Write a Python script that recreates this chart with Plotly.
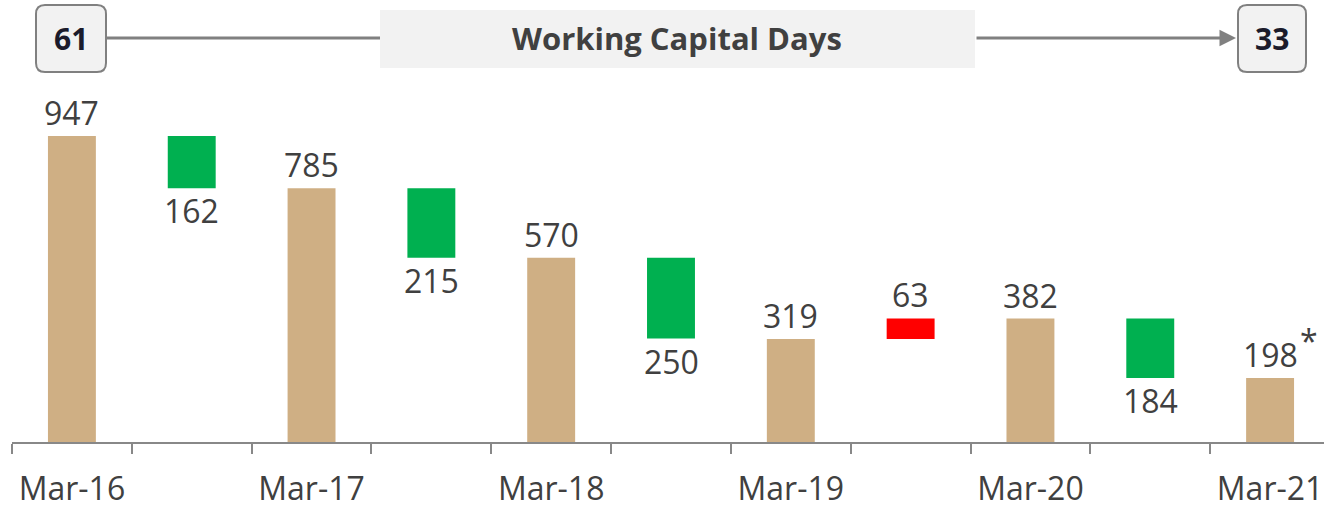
import plotly.graph_objects as go

# ---- data ----
periods = ["Mar-16", "Mar-17", "Mar-18", "Mar-19", "Mar-20", "Mar-21"]
totals = [947, 785, 570, 319, 382, 198]
changes = [-162, -215, -250, 63, -184]
wc_days_start = "61"
wc_days_end = "33"
title_text = "Working Capital Days"
footnote_mark = "*"

# build interleaved categories
cats, measures, values = [], [], []
for i, p in enumerate(periods):
    cats.append(p)
    measures.append("absolute")
    values.append(totals[i])
    if i < len(changes):
        cats.append(" " * (i + 1))
        measures.append("relative")
        values.append(changes[i])

TAN = "#CFAF84"
GREEN = "#00B050"
RED = "#FF0000"
TXT = "#404040"
FONT = "Open Sans"
FS = 32

fig = go.Figure(go.Waterfall(
    x=cats, y=values, measure=measures,
    width=0.4,
    totals=dict(marker=dict(color=TAN)),
    decreasing=dict(marker=dict(color=GREEN)),
    increasing=dict(marker=dict(color=RED)),
    connector=dict(visible=False),
    hoverinfo="skip",
))

annotations = []
for i, p in enumerate(periods):
    annotations.append(dict(x=p, y=totals[i], xref="x", yref="y", text=str(totals[i]),
                            showarrow=False, yanchor="bottom", yshift=0,
                            font=dict(size=FS, color=TXT, family=FONT)))
# footnote asterisk on the last value
annotations.append(dict(x=periods[-1], y=totals[-1], xref="x", yref="y", text=footnote_mark,
                        showarrow=False, yanchor="bottom", xanchor="left",
                        xshift=28, yshift=14,
                        font=dict(size=32, color=TXT, family=FONT)))
for i, c in enumerate(changes):
    end = totals[i] + c
    cat = " " * (i + 1)
    annotations.append(dict(x=cat, y=end, xref="x", yref="y", text=str(abs(c)),
                            showarrow=False,
                            yanchor="top" if c < 0 else "bottom",
                            yshift=1,
                            font=dict(size=FS, color=TXT, family=FONT)))

# pixel -> paper helpers (plot area: x 12..1324, y 80..442)
L, R, T, B = 12, 1324, 80, 442
def px(x):
    return (x - L) / (R - L)
def py(y):
    return (B - y) / (B - T)

def rrect(x0, y0, x1, y1, r):
    rx, ry = r / (R - L), r / (B - T)
    X0, X1 = px(x0), px(x1)
    Y0, Y1 = py(y0), py(y1)  # Y0 top, Y1 bottom
    return (f"M {X0+rx},{Y0} L {X1-rx},{Y0} Q {X1},{Y0} {X1},{Y0-ry} "
            f"L {X1},{Y1+ry} Q {X1},{Y1} {X1-rx},{Y1} L {X0+rx},{Y1} "
            f"Q {X0},{Y1} {X0},{Y1+ry} L {X0},{Y0-ry} Q {X0},{Y0} {X0+rx},{Y0} Z")

shapes = [
    dict(type="line", xref="paper", yref="paper", x0=px(106), x1=px(380),
         y0=py(38), y1=py(38), line=dict(color="#808080", width=3)),
    dict(type="rect", xref="paper", yref="paper", x0=px(380), x1=px(975),
         y0=py(68), y1=py(10), fillcolor="#F2F2F2", line=dict(width=0), layer="below"),
    dict(type="path", xref="paper", yref="paper", path=rrect(36, 5, 106, 72, 9),
         fillcolor="#F2F2F2", line=dict(color="#808080", width=2)),
    dict(type="path", xref="paper", yref="paper", path=rrect(1238, 5, 1306, 72, 9),
         fillcolor="#F2F2F2", line=dict(color="#808080", width=2)),
]

annotations += [
    dict(xref="paper", yref="paper", x=px(1236), y=py(38), ax=-(1236 - 975), ay=0,
         text="", showarrow=True, arrowhead=2, arrowsize=1.1, arrowwidth=3,
         arrowcolor="#808080"),
    dict(xref="paper", yref="paper", x=px(677), y=py(38), xanchor="center", yanchor="middle",
         text="<b>" + title_text + "</b>",
         showarrow=False, font=dict(size=31, color=TXT, family=FONT)),
    dict(xref="paper", yref="paper", x=px(71), y=py(39), xanchor="center", yanchor="middle",
         text="<b>" + wc_days_start + "</b>",
         showarrow=False, font=dict(size=30, color="#1B1B2B", family=FONT)),
    dict(xref="paper", yref="paper", x=px(1272), y=py(39), xanchor="center", yanchor="middle",
         text="<b>" + wc_days_end + "</b>",
         showarrow=False, font=dict(size=30, color="#1B1B2B", family=FONT)),
]

fig.update_layout(
    width=1324, height=508,
    margin=dict(l=L, r=1324 - R, t=T, b=508 - B, pad=0),
    paper_bgcolor="white", plot_bgcolor="white",
    showlegend=False,
    shapes=shapes, annotations=annotations,
    font=dict(family=FONT, color=TXT),
    xaxis=dict(type="category", range=[-0.5, 10.45], tickson="boundaries",
               ticks="outside", ticklen=10, tickcolor="#888888", tickwidth=1.5,
               ticklabelstandoff=18,
               showline=True, linecolor="#888888", linewidth=1.5,
               showgrid=False, tickfont=dict(size=FS, color=TXT, family=FONT),
               fixedrange=True),
    yaxis=dict(range=[0, 947 * (B - T) / 306], visible=False, showgrid=False,
               zeroline=False, fixedrange=True),
)

fig.write_html("out.html")
